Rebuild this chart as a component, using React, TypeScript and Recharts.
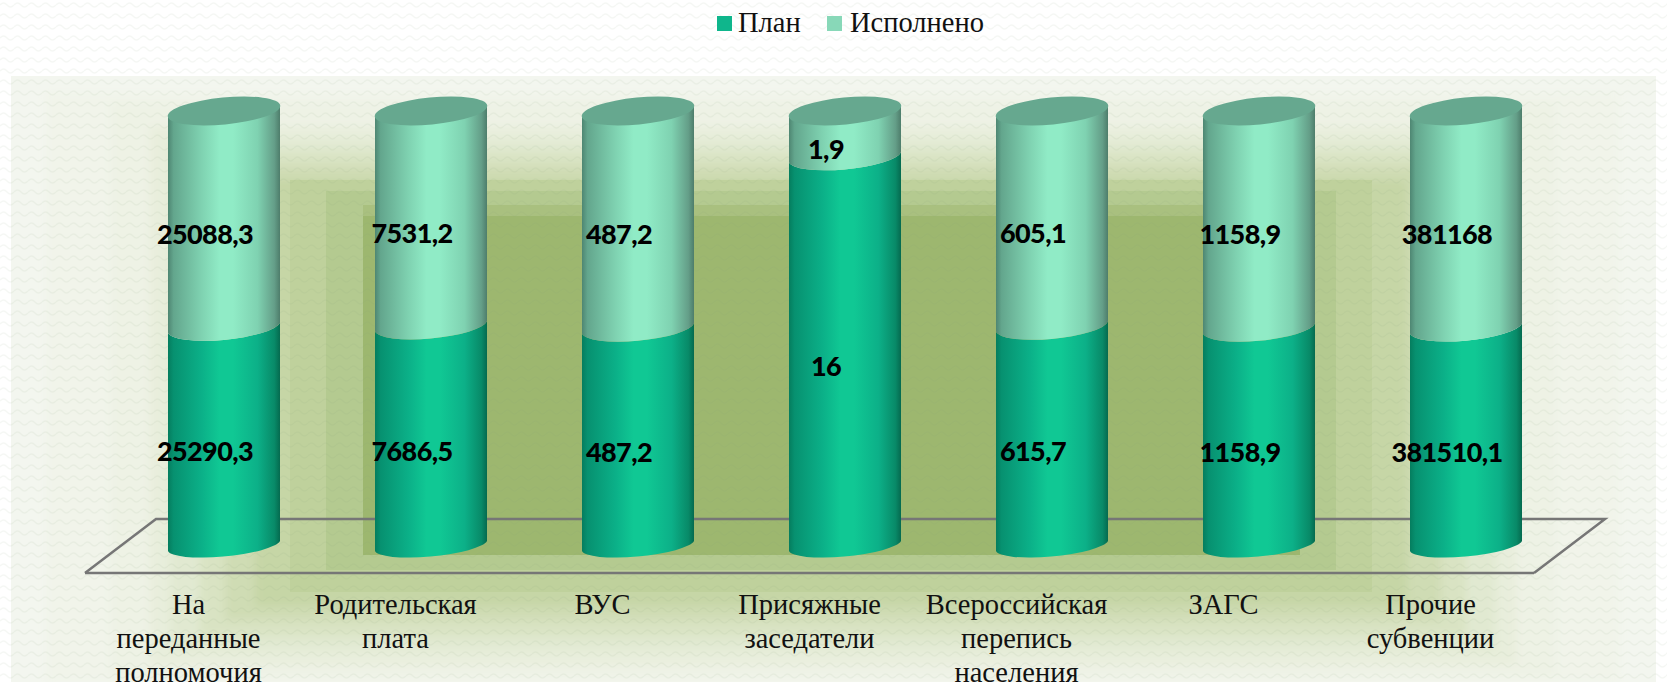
import React from "react";
import { BarChart, Bar, XAxis, YAxis, Legend, LabelList, Customized } from "recharts";

const categories = [
  "На переданные полномочия",
  "Родительская плата",
  "ВУС",
  "Присяжные заседатели",
  "Всероссийская перепись населения",
  "ЗАГС",
  "Прочие субвенции",
];
const tickLines = [
  ["На", "переданные", "полномочия"],
  ["Родительская", "плата"],
  ["ВУС"],
  ["Присяжные", "заседатели"],
  ["Всероссийская", "перепись", "населения"],
  ["ЗАГС"],
  ["Прочие", "субвенции"],
];
const planValues = [25290.3, 7686.5, 487.2, 16, 615.7, 1158.9, 381510.1];
const doneValues = [25088.3, 7531.2, 487.2, 1.9, 605.1, 1158.9, 381168];
const data = categories.map((name, i) => ({
  name,
  plan: planValues[i],
  done: doneValues[i],
}));

const W = 1667;
const H = 682;
const DEPTH_X = 35;
const DEPTH_Y = 27;
const SERIF = "'Liberation Serif', serif";
const SANS = "Lato, sans-serif";

const softSteps: [number, number, number, number, string][] = [
  [45, 92, 1620, 682, "#f1f4ea"],
  [110, 102, 1556, 676, "#eef2e5"],
  [150, 127, 1516, 664, "#e8eedc"],
  [170, 140, 1496, 650, "#e1e9d1"],
  [200, 152, 1466, 636, "#d9e3c3"],
  [225, 166, 1441, 620, "#cfdcb4"],
  [255, 180, 1407, 606, "#c6d6a6"],
];
const crispSteps: [number, number, number, number, string][] = [
  [290, 180, 1372, 592, "#bfd19c"],
  [326, 191, 1336, 570, "#b4ca90"],
  [363, 205, 1300, 555, "#a9c07f"],
  [363, 216, 1300, 555, "#9db76f"],
];

function Cylinder(props: any) {
  const { x, y, width, height, gradient, cap, bottomRy } = props;
  const rx = width / 2 + 0.5;
  const ry = 13.5;
  const rot = -5.5;
  const tilt = 5;
  const l = x + DEPTH_X;
  const r = l + width;
  const top = y - DEPTH_Y;
  const bottom = y + height - DEPTH_Y;
  const d = `M${l},${top + tilt} A${rx},${ry} ${rot} 0 0 ${r},${top - tilt} L${r},${bottom - tilt} A${rx},${bottomRy} ${rot} 0 1 ${l},${bottom + tilt} Z`;
  return (
    <g>
      <path d={d} fill={`url(#${gradient})`} />
      {cap ? (
        <ellipse
          cx={l + width / 2}
          cy={top}
          rx={rx}
          ry={ry}
          fill="#66a88f"
          transform={`rotate(${rot} ${l + width / 2} ${top})`}
        />
      ) : null}
    </g>
  );
}

const valueLabel = (shift: number) => (props: any) => {
  const { x, y, width, height, value } = props;
  return (
    <text
      x={x + width / 2 + DEPTH_X - 19}
      y={y + height / 2 - DEPTH_Y + shift}
      textAnchor="middle"
      dominantBaseline="central"
      fontFamily={SANS}
      fontWeight={900}
      fontSize={27}
      letterSpacing={-0.6}
      fill="#000"
    >
      {String(value).replace(".", ",")}
    </text>
  );
};

function CategoryTick(props: any) {
  const { x, y, index } = props;
  const lines = tickLines[index] || [];
  return (
    <text x={x} y={y} textAnchor="middle" fontFamily={SERIF} fontSize={28.5} fill="#111">
      {lines.map((line, i) => (
        <tspan key={line} x={x} y={614 + i * 34}>
          {line}
        </tspan>
      ))}
    </text>
  );
}

function Floor() {
  return <path d="M85,573 L156,519 L1605,519 L1534,573" fill="none" stroke="#767676" strokeWidth={2.5} />;
}

function LegendContent({ payload }: any) {
  const slots = [
    { box: 717, text: 738 },
    { box: 827, text: 850 },
  ];
  return (
    <svg width={W} height={50} style={{ position: "absolute", left: 0, top: 0 }}>
      {(payload || []).map((p: any, i: number) => (
        <g key={p.value}>
          <rect x={slots[i].box} y={16} width={15} height={15} fill={p.color} />
          <text x={slots[i].text} y={32} fontFamily={SERIF} fontSize={28.5} fill="#111">
            {p.value}
          </text>
        </g>
      ))}
    </svg>
  );
}

export default function App() {
  return (
    <div style={{ position: "absolute", left: 0, top: 0, width: W, height: H, overflow: "hidden", background: "#fff" }}>
      <svg width={W} height={H} style={{ position: "absolute", left: 0, top: 0 }}>
        <defs>
          <pattern id="wave" width="14" height="11" patternUnits="userSpaceOnUse">
            <path d="M0,5 Q3.5,1 7,5 T14,5" fill="none" stroke="#7f9a70" strokeWidth="1.4" opacity="0.08" />
          </pattern>
          <filter id="soft" x="-5%" y="-5%" width="110%" height="110%">
            <feGaussianBlur stdDeviation="5" />
          </filter>
          <clipPath id="panel">
            <rect x={11} y={76} width={1645} height={606} />
          </clipPath>
        </defs>
        <rect x={11} y={76} width={1645} height={606} fill="#f3f6ef" />
        <g filter="url(#soft)" clipPath="url(#panel)">
          {softSteps.map(([l, t, r, b, c], i) => (
            <rect key={i} x={l} y={t} width={r - l} height={b - t} fill={c} />
          ))}
        </g>
        {crispSteps.map(([l, t, r, b, c], i) => (
          <rect key={i} x={l} y={t} width={r - l} height={b - t} fill={c} />
        ))}
        <rect x={0} y={0} width={W} height={H} fill="url(#wave)" />
      </svg>
      <div style={{ position: "absolute", left: 0, top: 0 }}>
        <BarChart
          width={W}
          height={H}
          data={data}
          stackOffset="expand"
          margin={{ top: 138, right: 133, bottom: 79, left: 85 }}
          barSize={112}
        >
          <defs>
            <linearGradient id="gradPlan" x1="0" y1="0" x2="1" y2="0">
              <stop offset="0" stopColor="#057d5e" />
              <stop offset="0.05" stopColor="#079170" />
              <stop offset="0.3" stopColor="#0bb088" />
              <stop offset="0.46" stopColor="#10c894" />
              <stop offset="0.58" stopColor="#10c894" />
              <stop offset="0.8" stopColor="#0cb088" />
              <stop offset="0.95" stopColor="#088a68" />
              <stop offset="1" stopColor="#056a4f" />
            </linearGradient>
            <linearGradient id="gradDone" x1="0" y1="0" x2="1" y2="0">
              <stop offset="0" stopColor="#4e8672" />
              <stop offset="0.05" stopColor="#63a68d" />
              <stop offset="0.3" stopColor="#7fd2b1" />
              <stop offset="0.46" stopColor="#90ebc6" />
              <stop offset="0.58" stopColor="#90ebc6" />
              <stop offset="0.8" stopColor="#7fd2b1" />
              <stop offset="0.95" stopColor="#649e88" />
              <stop offset="1" stopColor="#4e7d6b" />
            </linearGradient>
          </defs>
          <Customized component={Floor} />
          <XAxis
            dataKey="name"
            interval={0}
            tick={CategoryTick}
            tickLine={false}
            axisLine={{ stroke: "#767676", strokeWidth: 2.5 }}
          />
          <YAxis hide domain={[0, 1]} />
          <Legend
            verticalAlign="top"
            height={0}
            itemSorter={null}
            content={LegendContent}
            wrapperStyle={{ position: "absolute", left: 0, top: 0, width: W, height: 0 }}
          />
          <Bar
            dataKey="plan"
            name="План"
            stackId="a"
            fill="#0fb68c"
            isAnimationActive={false}
            shape={(p: any) => <Cylinder {...p} gradient="gradPlan" bottomRy={11.5} />}
          >
            <LabelList dataKey="plan" content={valueLabel(14)} />
          </Bar>
          <Bar
            dataKey="done"
            name="Исполнено"
            stackId="a"
            fill="#88d8b8"
            isAnimationActive={false}
            shape={(p: any) => <Cylinder {...p} gradient="gradDone" bottomRy={13.5} cap />}
          >
            <LabelList dataKey="done" content={valueLabel(14)} />
          </Bar>
        </BarChart>
      </div>
    </div>
  );
}
